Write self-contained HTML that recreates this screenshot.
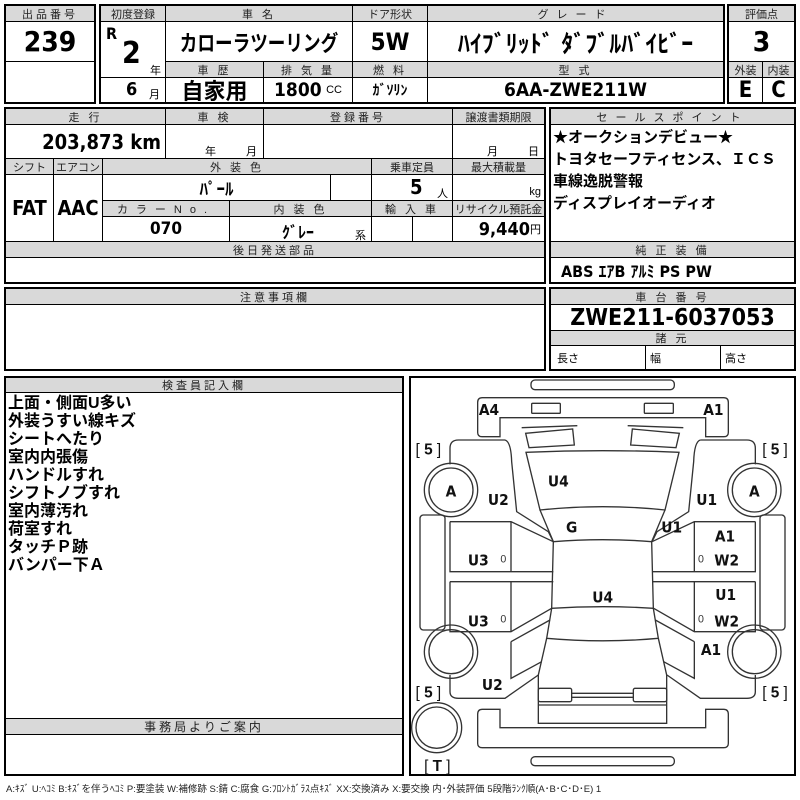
<!DOCTYPE html>
<html><head><meta charset="utf-8"><style>
body{margin:0;width:800px;height:800px;background:#fff;position:relative;overflow:hidden;font-family:"Liberation Sans","Noto Sans CJK JP",sans-serif;color:#000}
.c{position:absolute;border:1px solid #000;box-sizing:border-box;display:flex;align-items:center;justify-content:center;white-space:nowrap;overflow:hidden}
.h{background:#d9d9d9;font-size:11px;letter-spacing:3px;color:#222}
.b{position:absolute;border:2px solid #000;box-sizing:border-box}
.v{font-weight:bold;font-size:20px;font-family:"DejaVu Sans Condensed","Liberation Sans","Noto Sans CJK JP",sans-serif}
.s{position:absolute;font-size:11px}
.n{display:inline-block;transform:scaleX(.82)}
</style></head><body>
<!-- top -->
<div class="c h" style="left:5px;top:5px;width:90px;height:17px">出品番号</div>
<div class="c v" style="left:5px;top:21px;width:90px;height:41px;font-size:28px">239</div>
<div class="c" style="left:5px;top:61px;width:90px;height:42px"></div>
<div class="b" style="left:4px;top:4px;width:92px;height:100px"></div>

<div class="c h" style="left:100px;top:5px;width:66px;height:17px;letter-spacing:0">初度登録</div>
<div class="c" style="left:100px;top:21px;width:66px;height:57px"></div>
<div class="s v" style="left:106px;top:24px;font-size:16px">R</div>
<div class="s v" style="left:122px;top:36px;font-size:30px">2</div>
<div class="s" style="left:150px;top:62px">年</div>
<div class="c" style="left:100px;top:77px;width:66px;height:26px"></div>
<div class="s v" style="left:126px;top:79px;font-size:18px">6</div>
<div class="s" style="left:149px;top:86px">月</div>

<div class="c h" style="left:165px;top:5px;width:188px;height:17px">車 名</div>
<div class="c v" style="left:165px;top:21px;width:188px;height:41px;font-size:22px"><span class="n" style="transform:scaleX(.8)">カローラツーリング</span></div>
<div class="c h" style="left:165px;top:61px;width:99px;height:17px">車 歴</div>
<div class="c v" style="left:165px;top:77px;width:99px;height:26px;font-size:22px">自家用</div>
<div class="c h" style="left:263px;top:61px;width:90px;height:17px">排 気 量</div>
<div class="c" style="left:263px;top:77px;width:90px;height:26px"><b class="v" style="font-size:19px">1800</b>&nbsp;<span style="font-size:11px">CC</span></div>

<div class="c h" style="left:352px;top:5px;width:76px;height:17px;letter-spacing:0">ドア形状</div>
<div class="c v" style="left:352px;top:21px;width:76px;height:41px;font-size:24px">5W</div>
<div class="c h" style="left:352px;top:61px;width:76px;height:17px">燃 料</div>
<div class="c" style="left:352px;top:77px;width:76px;height:26px;font-weight:bold;font-size:14px">ｶﾞｿﾘﾝ</div>

<div class="c h" style="left:427px;top:5px;width:297px;height:17px;letter-spacing:8px">グレード</div>
<div class="c v" style="left:427px;top:21px;width:297px;height:41px;font-size:24px">ﾊｲﾌﾞﾘｯﾄﾞ ﾀﾞﾌﾞﾙﾊﾞｲﾋﾞｰ</div>
<div class="c h" style="left:427px;top:61px;width:297px;height:17px">型 式</div>
<div class="c v" style="left:427px;top:77px;width:297px;height:26px;font-size:19px">6AA-ZWE211W</div>
<div class="b" style="left:99px;top:4px;width:626px;height:100px"></div>

<div class="c h" style="left:728px;top:5px;width:67px;height:17px;letter-spacing:0">評価点</div>
<div class="c v" style="left:728px;top:21px;width:67px;height:41px;font-size:28px">3</div>
<div class="c h" style="left:728px;top:61px;width:35px;height:17px;letter-spacing:0">外装</div>
<div class="c h" style="left:762px;top:61px;width:33px;height:17px;letter-spacing:0">内装</div>
<div class="c v" style="left:728px;top:77px;width:35px;height:26px;font-size:22px">E</div>
<div class="c v" style="left:762px;top:77px;width:33px;height:26px;font-size:22px">C</div>
<div class="b" style="left:727px;top:4px;width:69px;height:100px"></div>

<!-- section 2 -->
<div class="c h" style="left:5px;top:108px;width:161px;height:17px">走 行</div>
<div class="c v" style="left:5px;top:124px;width:161px;height:35px;justify-content:flex-end;padding-right:4px;font-size:20px">203,873 km</div>
<div class="c h" style="left:165px;top:108px;width:99px;height:17px">車 検</div>
<div class="c" style="left:165px;top:124px;width:99px;height:35px"></div>
<div class="s" style="left:205px;top:143px">年</div><div class="s" style="left:246px;top:143px">月</div>
<div class="c h" style="left:263px;top:108px;width:190px;height:17px">登録番号</div>
<div class="c" style="left:263px;top:124px;width:190px;height:35px"></div>
<div class="c h" style="left:452px;top:108px;width:93px;height:17px;letter-spacing:0">譲渡書類期限</div>
<div class="c" style="left:452px;top:124px;width:93px;height:35px"></div>
<div class="s" style="left:487px;top:143px">月</div><div class="s" style="left:528px;top:143px">日</div>

<div class="c h" style="left:5px;top:158px;width:49px;height:17px;letter-spacing:0">シフト</div>
<div class="c h" style="left:53px;top:158px;width:50px;height:17px;letter-spacing:0">エアコン</div>
<div class="c v" style="left:5px;top:174px;width:49px;height:68px">FAT</div>
<div class="c v" style="left:53px;top:174px;width:50px;height:68px">AAC</div>
<div class="c h" style="left:102px;top:158px;width:270px;height:17px">外 装 色</div>
<div class="c v" style="left:102px;top:174px;width:229px;height:27px;font-size:17px">ﾊﾟｰﾙ</div>
<div class="c" style="left:330px;top:174px;width:42px;height:27px"></div>
<div class="c h" style="left:371px;top:158px;width:82px;height:17px;letter-spacing:0">乗車定員</div>
<div class="c" style="left:371px;top:174px;width:82px;height:27px"></div>
<div class="s v" style="left:410px;top:175px;font-size:20px">5</div><div class="s" style="left:437px;top:185px">人</div>
<div class="c h" style="left:452px;top:158px;width:93px;height:17px;letter-spacing:0">最大積載量</div>
<div class="c" style="left:452px;top:174px;width:93px;height:27px;justify-content:flex-end;align-items:flex-end;padding:0 3px 2px 0;font-size:11px">kg</div>
<div class="c h" style="left:102px;top:200px;width:128px;height:17px;letter-spacing:8px">カラーNo.</div>
<div class="c v" style="left:102px;top:216px;width:128px;height:26px;font-size:17px">070</div>
<div class="c h" style="left:229px;top:200px;width:143px;height:17px">内 装 色</div>
<div class="c" style="left:229px;top:216px;width:143px;height:26px"></div>
<div class="s" style="left:282px;top:219px;font-size:16px;font-weight:bold">ｸﾞﾚｰ</div><div class="s" style="left:355px;top:227px">系</div>
<div class="c h" style="left:371px;top:200px;width:82px;height:17px">輸 入 車</div>
<div class="c" style="left:371px;top:216px;width:42px;height:26px"></div>
<div class="c" style="left:412px;top:216px;width:41px;height:26px"></div>
<div class="c h" style="left:452px;top:200px;width:93px;height:17px;letter-spacing:0">リサイクル預託金</div>
<div class="c" style="left:452px;top:216px;width:93px;height:26px;justify-content:flex-end;padding-right:3px"><b class="v" style="font-size:18px">9,440</b><span style="font-size:11px">円</span></div>
<div class="c h" style="left:5px;top:241px;width:540px;height:17px">後日発送部品</div>
<div class="c" style="left:5px;top:257px;width:540px;height:26px"></div>
<div class="b" style="left:4px;top:107px;width:542px;height:177px"></div>

<div class="c h" style="left:550px;top:108px;width:245px;height:17px;letter-spacing:8px">セールスポイント</div>
<div class="c" style="left:550px;top:124px;width:245px;height:118px"></div>
<div class="s" style="left:553px;top:127px;font-size:15px;font-weight:bold;line-height:22px">★オークションデビュー★<br>トヨタセーフティセンス、ＩＣＳ<br>車線逸脱警報<br>ディスプレイオーディオ</div>
<div class="c h" style="left:550px;top:241px;width:245px;height:17px">純 正 装 備</div>
<div class="c v" style="left:550px;top:257px;width:245px;height:26px;justify-content:flex-start;padding-left:10px;font-size:16px">ABS ｴｱB ｱﾙﾐ PS PW</div>
<div class="b" style="left:549px;top:107px;width:247px;height:177px"></div>

<!-- section 3 -->
<div class="c h" style="left:5px;top:288px;width:540px;height:17px">注意事項欄</div>
<div class="b" style="left:4px;top:287px;width:542px;height:84px"></div>
<div class="c h" style="left:550px;top:288px;width:245px;height:17px">車 台 番 号</div>
<div class="c v" style="left:550px;top:304px;width:245px;height:27px;font-size:23px">ZWE211-6037053</div>
<div class="c h" style="left:550px;top:330px;width:245px;height:16px">諸 元</div>
<div class="c" style="left:550px;top:345px;width:96px;height:26px;justify-content:flex-start;padding-left:6px;font-size:11px">長さ</div>
<div class="c" style="left:645px;top:345px;width:76px;height:26px;justify-content:flex-start;padding-left:4px;font-size:11px">幅</div>
<div class="c" style="left:720px;top:345px;width:75px;height:26px;justify-content:flex-start;padding-left:4px;font-size:11px">高さ</div>
<div class="b" style="left:549px;top:287px;width:247px;height:84px"></div>

<!-- section 4 -->
<div class="c h" style="left:5px;top:377px;width:398px;height:16px">検査員記入欄</div>
<div class="s" style="left:8px;top:395px;font-size:16px;font-weight:bold;line-height:18px">上面・側面U多い<br>外装うすい線キズ<br>シートへたり<br>室内内張傷<br>ハンドルすれ<br>シフトノブすれ<br>室内薄汚れ<br>荷室すれ<br>タッチＰ跡<br>バンパー下Ａ</div>
<div class="c h" style="left:5px;top:718px;width:398px;height:17px;font-size:12px">事務局よりご案内</div>
<div class="b" style="left:4px;top:376px;width:400px;height:400px"></div>
<div class="b" style="left:409px;top:376px;width:387px;height:400px"></div>

<svg style="position:absolute;left:405px;top:375px" width="395" height="400" viewBox="0 0 1185 1200">
<g fill="none" stroke="#333" stroke-width="4">
<rect x="378" y="15" width="430" height="29" rx="12"/>
<path d="M218,82 Q218,68 232,68 L956,68 Q970,68 970,82 L970,172 Q970,185 957,185 L902,185 L902,128 L285,128 L285,185 L231,185 Q218,185 218,172 Z"/>
<rect x="380" y="85" width="86" height="30" rx="3"/>
<rect x="718" y="85" width="87" height="30" rx="3"/>
<path d="M350,158 L517,152 M835,158 L668,152"/>
<path d="M362,175 L503,162 L508,210 L372,218 Z M823,175 L682,162 L677,210 L813,218 Z"/>
<path d="M363,232 Q593,222 822,232 L780,405 Q593,385 405,405 Z"/>
<path d="M405,405 L445,500 Q593,488 740,500 L780,405"/>
<path d="M445,500 L440,700 Q593,690 745,700 L740,500"/>
<path d="M440,700 L425,790 Q593,805 760,790 L745,700"/>
<path d="M425,790 L400,900 L400,1045 L785,1045 L785,900 L760,790"/>
<rect x="400" y="940" width="100" height="40" rx="5"/><rect x="685" y="940" width="100" height="40" rx="5"/>
<path d="M500,955 L685,955 M500,967 L685,967 M400,990 L785,990"/>
<path d="M218,1018 Q218,1003 232,1003 L285,1003 L285,1058 L902,1058 L902,1003 L956,1003 Q970,1003 970,1018 L970,1105 Q970,1118 956,1118 L232,1118 Q218,1118 218,1105 Z"/>
<rect x="378" y="1145" width="430" height="27" rx="12"/>
<rect x="45" y="420" width="75" height="345" rx="10"/><rect x="1065" y="420" width="75" height="345" rx="10"/>
<g id="side">
<path d="M300,195 L160,195 Q135,195 135,220 L135,268"/>
<path d="M300,195 Q318,200 320,260 L335,410 L430,470 L445,500"/>
<path d="M135,440 L318,440 L445,500 M318,440 L318,590 M135,440 L135,590 L445,590 M135,620 L445,620 M135,620 L135,770 L318,770 L440,700 M318,620 L318,770"/>
<path d="M318,800 L435,735 M318,800 L318,910 L410,860 M135,900 L135,950 Q135,970 160,970 L300,970 L400,900"/>
</g>
<use href="#side" transform="translate(1186,0) scale(-1,1)"/>
<circle cx="138" cy="345" r="80"/><circle cx="138" cy="345" r="66"/>
<circle cx="1048" cy="345" r="80"/><circle cx="1048" cy="345" r="66"/>
<circle cx="138" cy="830" r="80"/><circle cx="138" cy="830" r="66"/>
<circle cx="1048" cy="830" r="80"/><circle cx="1048" cy="830" r="66"/>
<circle cx="95" cy="1058" r="75"/><circle cx="95" cy="1058" r="62"/>
</g>
<g font-family="DejaVu Sans Condensed, Liberation Sans, sans-serif" font-weight="bold" font-size="46" text-anchor="middle" fill="#111">
<text x="252" y="120">A4</text><text x="925" y="120">A1</text>
<text x="138" y="365">A</text><text x="1048" y="365">A</text>
<text x="460" y="335">U4</text><text x="280" y="390">U2</text><text x="905" y="390">U1</text>
<text x="500" y="472">G</text><text x="800" y="472">U1</text>
<text x="960" y="500">A1</text><text x="965" y="572">W2</text><text x="220" y="572">U3</text>
<text x="593" y="682">U4</text><text x="962" y="675">U1</text><text x="965" y="755">W2</text><text x="220" y="755">U3</text>
<text x="918" y="840">A1</text><text x="262" y="945">U2</text>
</g>
<g font-family="Liberation Sans, sans-serif" font-size="32" text-anchor="middle" fill="#333">
<text x="295" y="562">0</text><text x="888" y="562">0</text><text x="295" y="742">0</text><text x="888" y="742">0</text>
</g>
<g font-family="Liberation Sans, sans-serif" font-size="46" text-anchor="middle" fill="#111">
<text x="70" y="238">[ <tspan font-weight="bold">5</tspan> ]</text><text x="1110" y="238">[ <tspan font-weight="bold">5</tspan> ]</text>
<text x="70" y="968">[ <tspan font-weight="bold">5</tspan> ]</text><text x="1110" y="968">[ <tspan font-weight="bold">5</tspan> ]</text>
<text x="97" y="1188">[ <tspan font-weight="bold">T</tspan> ]</text>
</g>
</svg>
<div class="s" style="left:6px;top:781px;font-size:9.5px;color:#222">A:ｷｽﾞ U:ﾍｺﾐ B:ｷｽﾞを伴うﾍｺﾐ P:要塗装 W:補修跡 S:錆 C:腐食 G:ﾌﾛﾝﾄｶﾞﾗｽ点ｷｽﾞ XX:交換済み X:要交換 内･外装評価 5段階ﾗﾝｸ順(A･B･C･D･E) 1</div>
</body></html>
